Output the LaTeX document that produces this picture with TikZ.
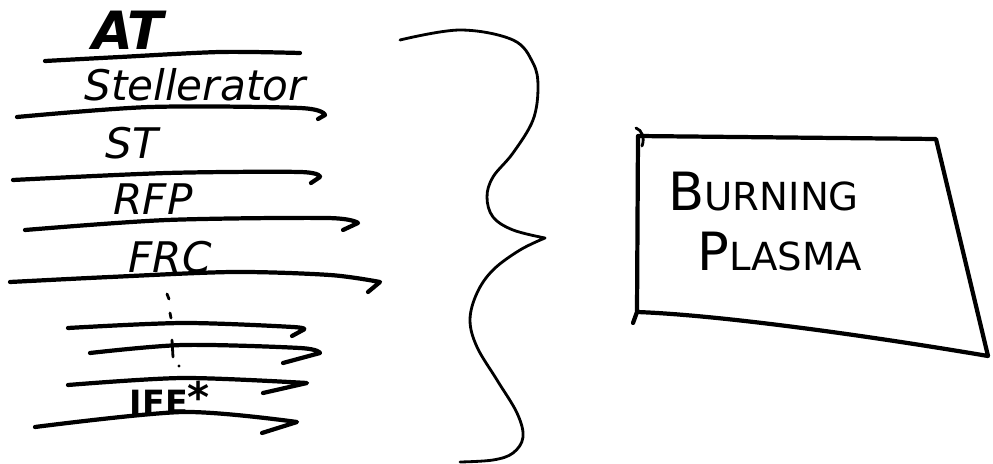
\documentclass[tikz,border=0pt]{standalone}
\usepackage{fontspec}
\setmainfont{DejaVu Sans}
\usetikzlibrary{positioning}

\begin{document}
\begin{tikzpicture}[x=0.2mm, y=-0.2mm,
        pen/.style={line width=2.4pt, line cap=round, line join=round},
        thinpen/.style={line width=1.6pt, line cap=round, line join=round},
        lbl/.style={font=\fontsize{24}{28}\selectfont\itshape, inner sep=0pt}]
        \useasboundingbox (0,0) rectangle (993,464);

        % concept list
        \node[lbl, font=\fontsize{30}{34}\selectfont\itshape\bfseries] (at) at (128,30) {AT};
        \node[lbl] (stell) at (195,85)  {Stellerator};
        \node[lbl] (st)    at (132,143) {ST};
        \node[lbl] (rfp)   at (153,199) {RFP};
        \node[lbl] (frc)   at (170,257) {FRC};
        \node[inner sep=0pt, font=\fontsize{19}{21}\selectfont\bfseries] (ife) at (170,398)
            {IFE\raisebox{1.5pt}{\fontsize{24}{24}\selectfont *}};

        \draw[pen] plot[smooth] coordinates {(45,61) (120,57) (220,52) (300,53)};
        \draw[pen] plot[smooth] coordinates {(17,117) (150,107) (300,108) (325,115)} -- (318,119);
        \draw[pen] plot[smooth] coordinates {(13,180) (167,173) (300,172) (320,177)} -- (311,183);
        \draw[pen] plot[smooth] coordinates {(25,230) (167,220) (327,218) (358,223)} -- (343,230);
        \draw[pen] plot[smooth] coordinates {(10,282) (110,277) (233,272) (330,275) (380,282)} -- (368,292);
        \draw[pen] plot[smooth] coordinates {(68,328) (183,323) (293,327) (303,330)} -- (292,336);
        \draw[pen] plot[smooth] coordinates {(90,353) (183,345) (300,348) (320,353)} -- (283,363);
        \draw[pen] plot[smooth] coordinates {(68,385) (183,378) (307,383)} -- (263,393);
        \draw[pen] plot[smooth] coordinates {(35,427) (183,412) (297,422)} -- (262,433);

        % dots
        \draw[thinpen] (167,294) -- (169,299);
        \draw[thinpen] (170,313) -- (171,318);
        \draw[thinpen] (172,340) -- (173,357);
        \fill (179,366) circle (1.6);

        % brace
        \draw[thinpen] plot[smooth, tension=0.6] coordinates {(400,40) (460,30) (513,40) (533,63) (538,87) (533,120)
                (513,153) (493,177) (487,197) (493,217) (513,230) (545,238)}
            plot[smooth, tension=0.6] coordinates {(545,238) (520,250) (493,270) (477,293) (470,320) (477,347)
                (497,380) (517,413) (523,437) (513,453) (493,460) (460,462)};

        % burning plasma box
        \node[inner sep=0pt, anchor=base west] (burn) at (668,210)
            {{\fontsize{30}{32}\selectfont B}{\fontsize{22}{24}\selectfont URNING}};
        \node[inner sep=0pt, anchor=base west] (plasma) at (697,270)
            {{\fontsize{30}{32}\selectfont P}{\fontsize{22}{24}\selectfont LASMA}};
        \draw[pen] (633,323) -- (637,312) -- (638,136) -- (936,139) -- (988,356)
            .. controls (870,336) and (720,315) .. (637,312);
        \draw[thinpen] (636,128) .. controls (642,130) and (645,138) .. (642,146);
    \end{tikzpicture}
\end{document}
